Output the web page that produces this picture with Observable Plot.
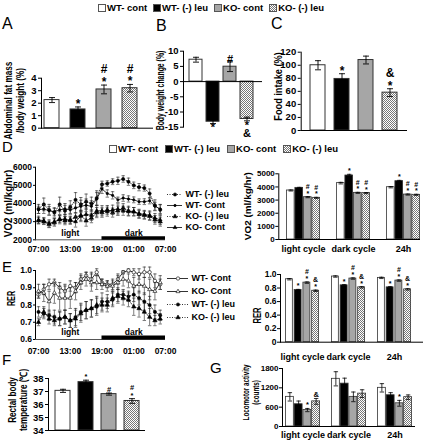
<!DOCTYPE html>
<html><head><meta charset="utf-8">
<script src="https://cdn.jsdelivr.net/npm/d3@7"></script>
<script src="https://cdn.jsdelivr.net/npm/@observablehq/plot@0.6"></script>
<style>
html,body{margin:0;padding:0;background:#fff;}
#fig{position:relative;width:427px;height:440px;overflow:hidden;font-family:"Liberation Sans",Arial,sans-serif;color:#000;}
#fig svg.plt{position:absolute;left:0;top:0;}
.lbl{position:absolute;font-size:16px;line-height:16px;}
.ytitle{position:absolute;left:0;top:0;font-weight:bold;white-space:pre;text-align:center;line-height:1.1;}
.legend{position:absolute;display:flex;align-items:center;font-weight:bold;white-space:nowrap;}
.legend .it{display:flex;align-items:center;}
.sw{display:inline-block;width:8px;height:8px;border:1px solid #555;margin-right:1px;box-sizing:border-box;}
</style></head><body>
<svg width="0" height="0" style="position:absolute"><defs>
<pattern id="chk" width="2" height="2" patternUnits="userSpaceOnUse"><rect width="2" height="2" fill="#fff"/><rect width="1" height="1" fill="#777"/><rect x="1" y="1" width="1" height="1" fill="#777"/></pattern>
</defs></svg>
<div id="fig"></div>
<script>
// ---------- data ----------
const seriesNames = ["WT- cont", "WT- (-) leu", "KO- cont", "KO- (-) leu"];

// A: abdominal fat mass / body weight (%)
const fatValues = [2.25, 1.5, 3.1, 3.2];
const fatErrs = [0.2, 0.2, 0.35, 0.3];
const fatAnn = ["", "*", "#\n*", "#\n*"];
const fatTicks = [0, 1, 2, 3, 4];

// B: body weight change (%)
const bwValues = [7.2, -13.2, 4.9, -12.3];
const bwErrs = [0.8, 0.6, 1.6, 0.6];
const bwAnn = ["", "*", "#", "*\n&"];
const bwTicks = [-15, -10, -5, 0, 5, 10];

// C: food intake (%)
const foodValues = [100, 79, 108, 58];
const foodErrs = [7, 8, 6, 6];
const foodAnn = ["", "*", "", "&\n*"];
const foodTicks = [0, 20, 40, 60, 80, 100, 120];

// D left: VO2 time course
const hours = [0,1,2,3,4,5,6,7,8,9,10,11,12,13,14,15,16,17,18,19,20,21,22,23];
const timeTicks = [0, 6, 12, 18, 24];
const timeLabels = ["07:00", "13:00", "19:00", "01:00", "07:00"];
const phaseNames = ["light", "dark"];
const phaseStart = [0, 12];
const phaseEnd = [12, 24];
const vo2WtLeu  = [3700,3950,3650,3500,3950,3600,3800,4200,3950,4100,4000,4300,5050,5100,5200,5250,5350,5200,5000,4900,4850,4550,3900,3650];
const vo2WtCont = [3650,3700,3600,3550,3650,3700,3650,3750,3850,3900,3850,4250,4800,4550,4450,4200,4300,4250,4200,4100,4100,4150,3850,3700];
const vo2KoLeu  = [3050,3000,2850,2950,3150,3050,3100,3250,3350,3050,3200,3500,3500,3650,3500,3600,3750,3600,3550,3400,3350,3300,3100,3000];
const vo2KoCont = [3100,3050,2900,3000,3100,3150,3050,3000,3300,3400,3350,3600,3600,3550,3650,3700,3600,3550,3550,3450,3400,3350,3200,3100];
const vo2ErrWtLeu  = [250,350,300,250,400,300,350,400,380,420,350,400,180,150,160,200,180,200,180,200,170,250,300,280];
const vo2ErrWtCont = [200,250,230,200,260,300,250,280,330,350,300,350,250,200,200,150,180,170,160,150,160,170,220,250];
const vo2ErrKoLeu  = [180,160,180,200,200,220,200,250,280,300,260,280,260,240,250,260,240,250,230,220,220,230,240,250];
const vo2ErrKoCont = [200,180,200,180,220,250,200,300,300,350,280,300,280,250,260,280,250,240,230,230,220,240,250,260];
const vo2Ticks = [2000, 3000, 4000, 5000, 6000];

// D right: VO2 by cycle
const cycles = ["light cycle", "dark cycle", "24h"];
const vo2BarWtCont = [3730, 4290, 3980];
const vo2BarWtLeu  = [3930, 4870, 4440];
const vo2BarKoCont = [3220, 3550, 3420];
const vo2BarKoLeu  = [3170, 3530, 3400];
const vo2BarErrWtCont = [40, 60, 50];
const vo2BarErrWtLeu  = [40, 90, 60];
const vo2BarErrKoCont = [40, 40, 40];
const vo2BarErrKoLeu  = [40, 40, 40];
const vo2AnnWtCont = ["", "", ""];
const vo2AnnWtLeu  = ["", "*", "*"];
const vo2AnnKoCont = ["#\n*", "#\n*", "#\n*"];
const vo2AnnKoLeu  = ["#\n*", "#\n*", "#\n*"];
const vo2BarTicks = [0, 1000, 2000, 3000, 4000, 5000];

// E left: RER time course
const rerWtCont = [0.86,0.89,0.92,0.93,0.90,0.88,0.91,0.90,0.95,0.97,0.95,0.99,0.93,0.92,0.92,0.95,0.99,1.00,0.99,0.98,0.99,0.99,0.94,0.92];
const rerKoCont = [0.88,0.87,0.82,0.87,0.84,0.84,0.84,0.88,0.93,0.95,0.93,0.93,0.92,0.91,0.91,0.93,0.95,0.94,0.91,0.92,0.91,0.89,0.88,0.93];
const rerWtLeu  = [0.76,0.75,0.74,0.73,0.72,0.73,0.71,0.73,0.76,0.77,0.78,0.79,0.82,0.82,0.83,0.86,0.86,0.85,0.86,0.84,0.82,0.80,0.76,0.74];
const rerKoLeu  = [0.70,0.76,0.72,0.71,0.72,0.73,0.71,0.72,0.75,0.77,0.78,0.80,0.80,0.80,0.84,0.85,0.84,0.83,0.79,0.78,0.76,0.73,0.71,0.72];
const rerErrWtCont = [0.02,0.03,0.03,0.02,0.03,0.04,0.03,0.03,0.03,0.02,0.04,0.02,0.02,0.02,0.03,0.03,0.01,0.01,0.02,0.03,0.03,0.03,0.04,0.03];
const rerErrKoCont = [0.04,0.05,0.06,0.06,0.07,0.07,0.06,0.05,0.04,0.04,0.05,0.04,0.03,0.03,0.03,0.04,0.04,0.04,0.05,0.05,0.05,0.06,0.05,0.04];
const rerErrWtLeu  = [0.03,0.03,0.03,0.04,0.04,0.04,0.04,0.05,0.05,0.05,0.05,0.05,0.05,0.04,0.04,0.04,0.03,0.03,0.04,0.04,0.05,0.05,0.04,0.03];
const rerErrKoLeu  = [0.02,0.03,0.03,0.03,0.04,0.04,0.04,0.05,0.05,0.05,0.05,0.05,0.04,0.04,0.04,0.04,0.04,0.04,0.05,0.05,0.05,0.05,0.03,0.03];
const rerTicks = [0.6, 0.7, 0.8, 0.9, 1.0];

// E right: RER by cycle
const rerBarWtCont = [0.93, 0.97, 0.95];
const rerBarWtLeu  = [0.77, 0.84, 0.81];
const rerBarKoCont = [0.88, 0.94, 0.91];
const rerBarKoLeu  = [0.76, 0.81, 0.78];
const rerBarErrWtCont = [0.01, 0.01, 0.01];
const rerBarErrWtLeu  = [0.01, 0.01, 0.01];
const rerBarErrKoCont = [0.01, 0.01, 0.01];
const rerBarErrKoLeu  = [0.01, 0.01, 0.01];
const rerAnnWtCont = ["", "", ""];
const rerAnnWtLeu  = ["*", "*", "*"];
const rerAnnKoCont = ["#\n*", "#\n*", "#\n*"];
const rerAnnKoLeu  = ["&\n*", "&\n*", "&\n*"];
const rerBarTicks = [0, 0.2, 0.4, 0.6, 0.8, 1.0];

// F: rectal body temperature
const tempValues = [37.05, 37.72, 36.8, 36.27];
const tempErrs = [0.12, 0.15, 0.08, 0.18];
const tempAnn = ["", "*", "#", "#\n*"];
const tempTicks = [34, 35, 36, 37, 38];

// G: locomotor activity
const locWtCont = [920, 1480, 1200];
const locWtLeu  = [690, 1330, 970];
const locKoCont = [510, 920, 720];
const locKoLeu  = [780, 1020, 910];
const locErrWtCont = [130, 220, 130];
const locErrWtLeu  = [100, 170, 80];
const locErrKoCont = [50, 150, 90];
const locErrKoLeu  = [90, 120, 70];
const locAnnWtCont = ["", "", ""];
const locAnnWtLeu  = ["", "", ""];
const locAnnKoCont = ["*", "", "*"];
const locAnnKoLeu  = ["&", "", ""];
const locTicks = [0, 600, 1200, 1800];

// ---------- style ----------
const W = 427, H = 440;
const FONT = '"Liberation Sans", Arial, sans-serif';
const seriesFills = ["#fff", "#000", "#a6a6a6", "url(#chk)"];
const swatchCss = ["#fff", "#000", "#a6a6a6", "repeating-conic-gradient(#777 0% 25%, #fff 0% 50%) 0 0 / 2px 2px"];
const fig = document.getElementById("fig");
const cap = {draw(ctx, size) { const r = Math.sqrt(size / Math.PI); ctx.moveTo(-r, 0); ctx.lineTo(r, 0); }};

function fr(l, t, r, b) { return {width: W, height: H, marginLeft: l, marginTop: t, marginRight: W - r, marginBottom: H - b}; }
function add(opts, fs) {
  const svg = Plot.plot({...opts, style: {background: "transparent", fontFamily: FONT, fontSize: (fs || 9) + "px", fontWeight: "bold", overflow: "visible", color: "#000"}});
  svg.classList.add("plt");
  fig.appendChild(svg);
}
const str = d => String(d);

function simpleBars(p) {
  const rows = seriesNames.map((s, i) => ({s, v: p.values[i], e: p.errs[i], a: p.ann[i]}));
  const up = rows.filter(d => d.v >= p.base), dn = rows.filter(d => d.v < p.base);
  add({
    ...fr(p.l, p.t, p.r, p.b),
    x: {type: "band", domain: seriesNames, range: p.xr, paddingInner: p.pi, paddingOuter: 0, align: 0, axis: null},
    y: {domain: p.yd, ticks: p.yt, tickFormat: str, tickSize: 3, tickPadding: 2, line: true, label: null},
    color: {domain: seriesNames, range: seriesFills},
    marks: [
      Plot.barY(rows, {x: "s", y1: p.base, y2: "v", fill: "s", stroke: "#333", strokeWidth: 1}),
      Plot.ruleX(rows, {x: "s", y1: d => d.v - d.e, y2: d => d.v + d.e, stroke: "#000", strokeWidth: 0.9}),
      Plot.dot(rows, {x: "s", y: d => d.v + d.e, symbol: cap, r: 3, fill: "none", stroke: "#000", strokeWidth: 0.9}),
      Plot.dot(rows, {x: "s", y: d => d.v - d.e, symbol: cap, r: 3, fill: "none", stroke: "#000", strokeWidth: 0.9}),
      Plot.ruleY([p.base], {stroke: "#000"}),
      Plot.text(up, {x: "s", y: d => d.v + d.e, text: "a", lineAnchor: "bottom", dy: p.ady, fontSize: p.afs, lineHeight: 1.05}),
      Plot.text(dn, {x: "s", y: d => d.v - d.e, text: "a", lineAnchor: "top", dy: 2, fontSize: p.afs, lineHeight: 0.75})
    ]
  }, p.fs);
}

function groupBars(p) {
  const rows = [];
  p.groups.forEach((g, gi) => seriesNames.forEach((s, si) =>
    rows.push({g, s, k: si, v: p.values[si][gi], e: p.errs[si][gi], a: p.ann[si][gi]})));
  const step = (p.xr[1] - p.xr[0]) / (p.groups.length - p.pi);
  const bw = step * (1 - p.pi), sub = bw / 4;
  const marks = [];
  seriesNames.forEach((s, k) => {
    const rs = rows.filter(d => d.k === k);
    const off = -bw / 2 + sub * (k + 0.5);
    marks.push(Plot.barY(rs, {x: "g", y1: 0, y2: "v", fill: "s", stroke: "#333", strokeWidth: 0.8, insetLeft: k * sub + 0.4, insetRight: (3 - k) * sub + 0.4}));
    marks.push(Plot.ruleX(rs, {x: "g", dx: off, y1: d => d.v - d.e, y2: d => d.v + d.e, stroke: "#000", strokeWidth: 0.8}));
    marks.push(Plot.dot(rs, {x: "g", dx: off, y: d => d.v + d.e, symbol: cap, r: 2.2, fill: "none", stroke: "#000", strokeWidth: 0.8}));
    marks.push(Plot.dot(rs, {x: "g", dx: off, y: d => d.v - d.e, symbol: cap, r: 2.2, fill: "none", stroke: "#000", strokeWidth: 0.8}));
    marks.push(Plot.text(rs, {x: "g", dx: off, y: d => d.v + d.e, text: "a", lineAnchor: "bottom", dy: -1, fontSize: p.afs, lineHeight: 0.95}));
  });
  marks.push(Plot.ruleY([0], {stroke: "#000"}));
  marks.push(Plot.text(p.groups, {x: d => d, text: d => d, frameAnchor: "bottom", lineAnchor: "top", dy: p.xpad, fontSize: 9}));
  add({
    ...fr(p.l, p.t, p.r, p.b),
    x: {type: "band", domain: p.groups, range: p.xr, paddingInner: p.pi, paddingOuter: 0, align: 0, axis: null},
    y: {domain: [0, p.ytop], ticks: p.yt, tickFormat: p.yf || str, tickSize: 3, tickPadding: 1, line: true, label: null},
    color: {domain: seriesNames, range: seriesFills},
    marks
  }, p.fs);
}

function lineChart(p) {
  const marks = [];
  p.series.forEach(sr => {
    const rows = hours.map((h, i) => ({h, v: sr.v[i], e: sr.e[i]}));
    marks.push(Plot.ruleX(rows, {x: "h", y1: d => d.v - d.e, y2: d => d.v + d.e, stroke: "#222", strokeWidth: 0.6}));
    marks.push(Plot.dot(rows, {x: "h", y: d => d.v + d.e, symbol: cap, r: 1.7, fill: "none", stroke: "#222", strokeWidth: 0.6}));
    marks.push(Plot.dot(rows, {x: "h", y: d => d.v - d.e, symbol: cap, r: 1.7, fill: "none", stroke: "#222", strokeWidth: 0.6}));
    marks.push(Plot.line(rows, {x: "h", y: "v", stroke: "#000", strokeWidth: 0.8, strokeDasharray: sr.dash}));
    marks.push(Plot.dot(rows, {x: "h", y: "v", symbol: sr.sym, r: sr.r, fill: sr.fill, stroke: "#000", strokeWidth: 0.6}));
  });
  const phases = phaseNames.map((n, i) => ({n, a: phaseStart[i], b: phaseEnd[i]}));
  marks.push(Plot.ruleY([p.yd[0]], {stroke: "#555", strokeWidth: 1}));
  marks.push(Plot.ruleY(phases.filter(d => d.n === "dark"), {y: p.yd[0], x1: "a", x2: "b", stroke: "#000", strokeWidth: p.barW, dy: -p.barW / 2}));
  marks.push(Plot.text(phases, {x: d => (d.a + d.b) / 2, y: p.yd[0], text: "n", dy: p.phaseDy, fontSize: 8.5}));
  add({
    ...fr(p.l, p.t, p.r, p.b),
    x: {type: "linear", domain: [0, 24], range: p.xr, ticks: timeTicks, tickFormat: d => timeLabels[timeTicks.indexOf(d)], tickSize: 0, tickPadding: p.xpad, label: null},
    y: {domain: p.yd, ticks: p.yt, tickFormat: p.yf || str, tickSize: 2, tickPadding: 1.5, line: true, label: null},
    marks
  }, 8.5);
}

function lineLegend(p) {
  const labels = p.entries.map(e => e.label);
  const marks = [];
  p.entries.forEach(e => {
    marks.push(Plot.ruleY([e], {y: "label", x1: 0, x2: 1, stroke: "#000", strokeWidth: 0.8, strokeDasharray: e.dash}));
    marks.push(Plot.dot([e], {x: 0.5, y: "label", symbol: e.sym, r: e.r, fill: e.fill, stroke: "#000", strokeWidth: 0.6}));
    marks.push(Plot.text([e], {x: 1, y: "label", text: "label", textAnchor: "start", dx: 3, fontSize: 9}));
  });
  add({
    ...fr(p.x0, p.y0, p.x1, p.y1),
    x: {domain: [0, 1], range: [p.x0, p.x1], axis: null},
    y: {type: "point", domain: labels, range: [p.y0, p.y1], padding: 0, axis: null},
    marks
  }, 9);
}

function htmlLegend(left, top, fs, gap) {
  const d = document.createElement("div");
  d.className = "legend";
  d.style.left = left + "px"; d.style.top = top + "px"; d.style.fontSize = fs + "px"; d.style.gap = gap + "px";
  seriesNames.forEach((s, i) => {
    const it = document.createElement("span"); it.className = "it";
    const sw = document.createElement("span"); sw.className = "sw"; sw.style.background = swatchCss[i];
    it.appendChild(sw); it.appendChild(document.createTextNode(s));
    d.appendChild(it);
  });
  fig.appendChild(d);
}
function letter(t, x, y, fs) {
  const d = document.createElement("div"); d.className = "lbl"; d.textContent = t;
  d.style.left = x + "px"; d.style.top = y + "px"; d.style.fontSize = fs + "px";
  fig.appendChild(d);
}
function ytitle(text, cx, cy, len, fs) {
  const d = document.createElement("div"); d.className = "ytitle"; d.textContent = text; d.style.fontSize = fs + "px";
  fig.appendChild(d);
  const w = d.offsetWidth, h = d.offsetHeight;
  d.style.left = (cx - w / 2) + "px"; d.style.top = (cy - h / 2) + "px";
  d.style.transform = `rotate(-90deg) scaleX(${len / w})`;
}

// ---------- build ----------
htmlLegend(98, 2, 9.5, 6);
letter("A", 2, 16, 16); letter("B", 156, 18, 16); letter("C", 271, 16, 16);
letter("D", 2, 139, 15); letter("E", 2, 259, 15); letter("F", 2, 352, 15); letter("G", 210, 360, 15);

simpleBars({l: 41, t: 77.7, r: 153, b: 127.7, xr: [44, 137.5], pi: 0.404, yd: [0, 4], yt: fatTicks, base: 0,
  values: fatValues, errs: fatErrs, ann: fatAnn, afs: 12, ady: 1, fs: 9.5});
ytitle("Abdominal fat mass\n/body weight (%)", 15, 100, 78, 10.5);

simpleBars({l: 183, t: 50.7, r: 262, b: 126.7, xr: [189, 257], pi: 0.22, yd: [-15, 10], yt: bwTicks, base: 0,
  values: bwValues, errs: bwErrs, ann: bwAnn, afs: 11, ady: 1, fs: 9.5});
ytitle("Body weight change (%)", 160.5, 90, 80, 10);

simpleBars({l: 300.7, t: 51.7, r: 407, b: 130, xr: [310, 398], pi: 0.38, yd: [0, 120], yt: foodTicks, base: 0,
  values: foodValues, errs: foodErrs, ann: foodAnn, afs: 12, ady: 1, fs: 9.5});
ytitle("Food intake (%)", 277.5, 86, 68, 10);

htmlLegend(109, 143, 9.5, 7);
lineChart({l: 35, t: 166.7, r: 165, b: 239.3, xr: [38, 165], yd: [2000, 6000], yt: vo2Ticks, xpad: 6, barW: 3.5, phaseDy: -7,
  series: [
    {v: vo2WtLeu, e: vo2ErrWtLeu, dash: "1,1.5", sym: "circle", r: 1.6, fill: "#000"},
    {v: vo2WtCont, e: vo2ErrWtCont, dash: null, sym: "circle", r: 1.2, fill: "#000"},
    {v: vo2KoLeu, e: vo2ErrKoLeu, dash: "1,1.5", sym: "triangle", r: 1.6, fill: "#000"},
    {v: vo2KoCont, e: vo2ErrKoCont, dash: null, sym: "triangle", r: 1.4, fill: "#000"}
  ]});
lineLegend({x0: 167, x1: 182, y0: 193, y1: 228, entries: [
  {label: "WT- (-) leu", dash: "1,1.5", sym: "circle", r: 1.6, fill: "#000"},
  {label: "WT- Cont", dash: null, sym: "circle", r: 1.2, fill: "#000"},
  {label: "KO- (-) leu", dash: "1,1.5", sym: "triangle", r: 1.6, fill: "#000"},
  {label: "KO- Cont", dash: null, sym: "triangle", r: 1.4, fill: "#000"}
]});
ytitle("VO2 (ml/kg/hr)", 8, 203, 67, 10);

groupBars({l: 278.3, t: 173.3, r: 420, b: 239, xr: [286, 421], pi: 0.327, ytop: 5000, yt: vo2BarTicks, groups: cycles, xpad: 6,
  values: [vo2BarWtCont, vo2BarWtLeu, vo2BarKoCont, vo2BarKoLeu],
  errs: [vo2BarErrWtCont, vo2BarErrWtLeu, vo2BarErrKoCont, vo2BarErrKoLeu],
  ann: [vo2AnnWtCont, vo2AnnWtLeu, vo2AnnKoCont, vo2AnnKoLeu], afs: 7, fs: 8});
ytitle("VO2 (ml/kg/hr)", 248.5, 206, 68, 9.5);

lineChart({l: 35, t: 270, r: 165, b: 339, xr: [38, 165], yd: [0.6, 1.0], yt: rerTicks, yf: d => d.toFixed(1), xpad: 8, barW: 4, phaseDy: -7,
  series: [
    {v: rerWtCont, e: rerErrWtCont, dash: null, sym: "circle", r: 1.7, fill: "#fff"},
    {v: rerKoCont, e: rerErrKoCont, dash: null, sym: "triangle", r: 1.5, fill: "#fff"},
    {v: rerWtLeu, e: rerErrWtLeu, dash: "1,1.5", sym: "circle", r: 1.6, fill: "#000"},
    {v: rerKoLeu, e: rerErrKoLeu, dash: "1,1.5", sym: "triangle", r: 1.6, fill: "#000"}
  ]});
lineLegend({x0: 167, x1: 188, y0: 277, y1: 318, entries: [
  {label: "WT- Cont", dash: null, sym: "circle", r: 1.7, fill: "#fff"},
  {label: "KO- Cont", dash: null, sym: "triangle", r: 1.5, fill: "#fff"},
  {label: "WT- (-) leu", dash: "1,1.5", sym: "circle", r: 1.6, fill: "#000"},
  {label: "KO- (-) leu", dash: "1,1.5", sym: "triangle", r: 1.6, fill: "#000"}
]});
ytitle("RER", 11.5, 298, 15, 10);

groupBars({l: 280, t: 274, r: 423, b: 341.7, xr: [284.5, 413.5], pi: 0.255, ytop: 1.0, yt: rerBarTicks,
  yf: d => d === 0 ? "0" : d.toFixed(1), groups: cycles, xpad: 11,
  values: [rerBarWtCont, rerBarWtLeu, rerBarKoCont, rerBarKoLeu],
  errs: [rerBarErrWtCont, rerBarErrWtLeu, rerBarErrKoCont, rerBarErrKoLeu],
  ann: [rerAnnWtCont, rerAnnWtLeu, rerAnnKoCont, rerAnnKoLeu], afs: 7, fs: 8.5});
ytitle("RER", 257, 315, 16, 10);

simpleBars({l: 48, t: 378, r: 145, b: 430, xr: [55, 140], pi: 0.356, yd: [34, 38], yt: tempTicks, base: 34,
  values: tempValues, errs: tempErrs, ann: tempAnn, afs: 7.5, ady: -1, fs: 9.5});
ytitle("Rectal body\ntemperature (\u2103)", 17, 400, 62, 10);

groupBars({l: 282, t: 368, r: 415, b: 426, xr: [285, 413], pi: 0.247, ytop: 1800, yt: locTicks, groups: cycles, xpad: 5,
  values: [locWtCont, locWtLeu, locKoCont, locKoLeu],
  errs: [locErrWtCont, locErrWtLeu, locErrKoCont, locErrKoLeu],
  ann: [locAnnWtCont, locAnnWtLeu, locAnnKoCont, locAnnKoLeu], afs: 7.5, fs: 8});
ytitle("Locomotor activity\n(counts)", 251, 392, 56, 9.5);
</script>
</body></html>
